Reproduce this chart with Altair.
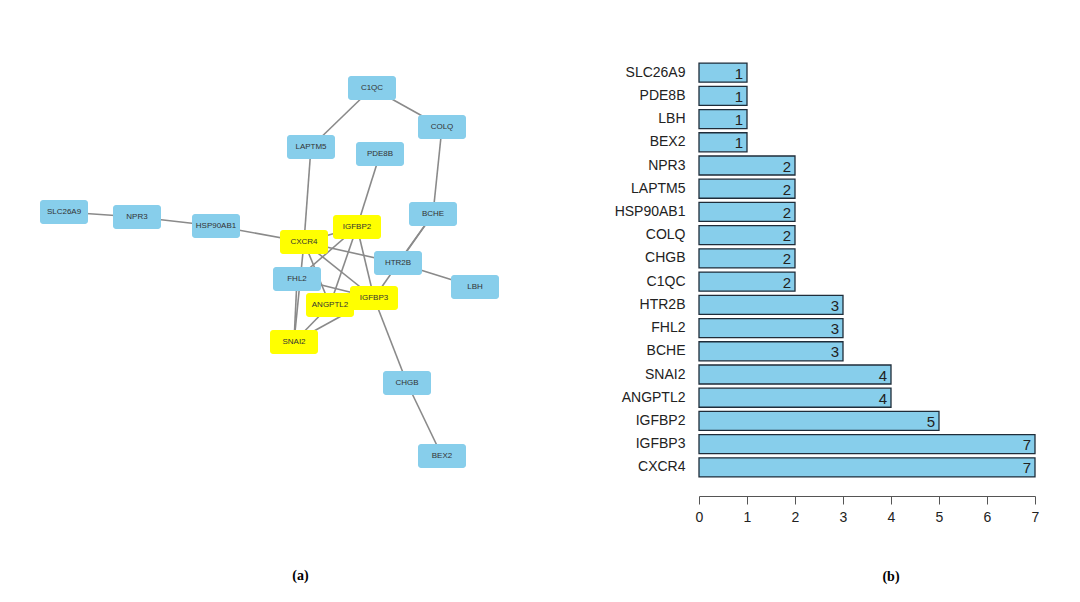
import altair as alt
import pandas as pd

# ---------------- network (a) ----------------
node_names = ["C1QC", "COLQ", "LAPTM5", "PDE8B", "SLC26A9", "NPR3", "HSP90AB1",
              "BCHE", "IGFBP2", "CXCR4", "HTR2B", "FHL2", "LBH", "IGFBP3",
              "ANGPTL2", "SNAI2", "CHGB", "BEX2"]
node_x = [372, 442, 311, 380, 64, 137, 216, 433, 357, 304, 398, 297, 475, 374, 330, 294, 407, 442]
node_y = [88, 127, 147, 154, 212, 217, 226, 214, 227, 242, 263, 279, 287, 298, 305, 342, 383, 456]
hub_nodes = ["CXCR4", "IGFBP3", "IGFBP2", "ANGPTL2", "SNAI2"]

edge_from = ["SLC26A9", "NPR3", "HSP90AB1", "LAPTM5", "C1QC", "COLQ", "LAPTM5", "PDE8B",
             "BCHE", "BCHE", "HTR2B", "CXCR4", "IGFBP3", "CHGB", "CXCR4", "IGFBP2",
             "IGFBP2", "IGFBP2", "CXCR4", "CXCR4", "CXCR4", "FHL2", "FHL2", "ANGPTL2",
             "SNAI2", "ANGPTL2"]
edge_to = ["NPR3", "HSP90AB1", "CXCR4", "C1QC", "COLQ", "BCHE", "CXCR4", "IGFBP2",
           "HTR2B", "IGFBP3", "LBH", "HTR2B", "CHGB", "BEX2", "IGFBP2", "FHL2",
           "ANGPTL2", "IGFBP3", "IGFBP3", "SNAI2", "ANGPTL2", "SNAI2", "IGFBP3", "SNAI2",
           "IGFBP3", "IGFBP3"]

# ---------------- degree bar chart (b) ----------------
genes = ["SLC26A9", "PDE8B", "LBH", "BEX2", "NPR3", "LAPTM5", "HSP90AB1", "COLQ", "CHGB",
         "C1QC", "HTR2B", "FHL2", "BCHE", "SNAI2", "ANGPTL2", "IGFBP2", "IGFBP3", "CXCR4"]
degrees = [1, 1, 1, 1, 2, 2, 2, 2, 2, 2, 3, 3, 3, 4, 4, 5, 7, 7]

nodes = pd.DataFrame({"name": node_names, "x": node_x, "y": node_y})
nodes["group"] = ["hub" if n in hub_nodes else "other" for n in node_names]
pos = {n: (x, y) for n, x, y in zip(node_names, node_x, node_y)}
edges = pd.DataFrame({
    "source": edge_from, "target": edge_to,
    "x": [pos[s][0] for s in edge_from], "y": [pos[s][1] for s in edge_from],
    "x2": [pos[t][0] for t in edge_to], "y2": [pos[t][1] for t in edge_to],
})

NW_W, NW_H = 497, 420
X0, Y0 = 13, 61
xs = alt.Scale(domain=[X0, X0 + NW_W], nice=False, zero=False)
ys = alt.Scale(domain=[Y0, Y0 + NW_H], nice=False, zero=False, reverse=True)

edge_layer = alt.Chart(edges).mark_rule(color="#8a8a8a", strokeWidth=1.6).encode(
    x=alt.X("x:Q", scale=xs, axis=None), y=alt.Y("y:Q", scale=ys, axis=None),
    x2="x2:Q", y2="y2:Q")

node_layer = alt.Chart(nodes).mark_rect(width=48, height=24, cornerRadius=3).encode(
    x=alt.X("x:Q", scale=xs, axis=None), y=alt.Y("y:Q", scale=ys, axis=None),
    color=alt.Color("group:N", scale=alt.Scale(domain=["hub", "other"],
                                               range=["#ffff00", "#87ceeb"]), legend=None))

label_layer = alt.Chart(nodes).mark_text(font="Liberation Sans", fontSize=8,
                                         color="#333333").encode(
    x=alt.X("x:Q", scale=xs, axis=None), y=alt.Y("y:Q", scale=ys, axis=None),
    text="name:N")

network = alt.layer(edge_layer, node_layer, label_layer).properties(
    width=NW_W, height=NW_H,
    title=alt.TitleParams("(a)", orient="bottom", font="Liberation Serif", fontSize=14,
                          fontWeight="bold", color="#000000", offset=88, dx=39,
                          anchor="middle"))

bars_df = pd.DataFrame({"gene": genes, "degree": degrees})
yb = alt.Y("gene:N", sort=genes, title=None,
           scale=alt.Scale(paddingInner=0.18, paddingOuter=0.09),
           axis=alt.Axis(ticks=False, domain=False, labelFont="Liberation Sans",
                         labelFontSize=14, labelColor="#222222", labelPadding=14))
xb = alt.X("degree:Q", title=None, scale=alt.Scale(domain=[0, 7], nice=False),
           axis=alt.Axis(values=list(range(8)), grid=False, offset=17, tickSize=8,
                         labelFlush=False,
                         labelFont="Liberation Sans", labelFontSize=14,
                         labelColor="#222222", domainColor="#555555",
                         tickColor="#555555", labelPadding=6))

bar_layer = alt.Chart(bars_df).mark_bar(color="#87ceeb", stroke="#1f2d3a",
                                        strokeWidth=1.3).encode(x=xb, y=yb)
num_layer = alt.Chart(bars_df).mark_text(align="right", dx=-4, dy=1,
                                         font="Liberation Sans", fontSize=15,
                                         color="#222222").encode(
    x="degree:Q", y=alt.Y("gene:N", sort=genes), text="degree:Q")

barchart = alt.layer(bar_layer, num_layer).properties(
    width=336, height=418,
    title=alt.TitleParams("(b)", orient="bottom", font="Liberation Serif", fontSize=14,
                          fontWeight="bold", color="#000000", offset=46, dx=24,
                          anchor="middle"))

chart = alt.hconcat(network, barchart, spacing=104).properties(
    padding={"left": 5, "top": 53, "right": 5, "bottom": 5},
    background="#ffffff"
).configure_view(stroke=None)

chart.save("out.html", embed_options={"renderer": "svg", "actions": False})
